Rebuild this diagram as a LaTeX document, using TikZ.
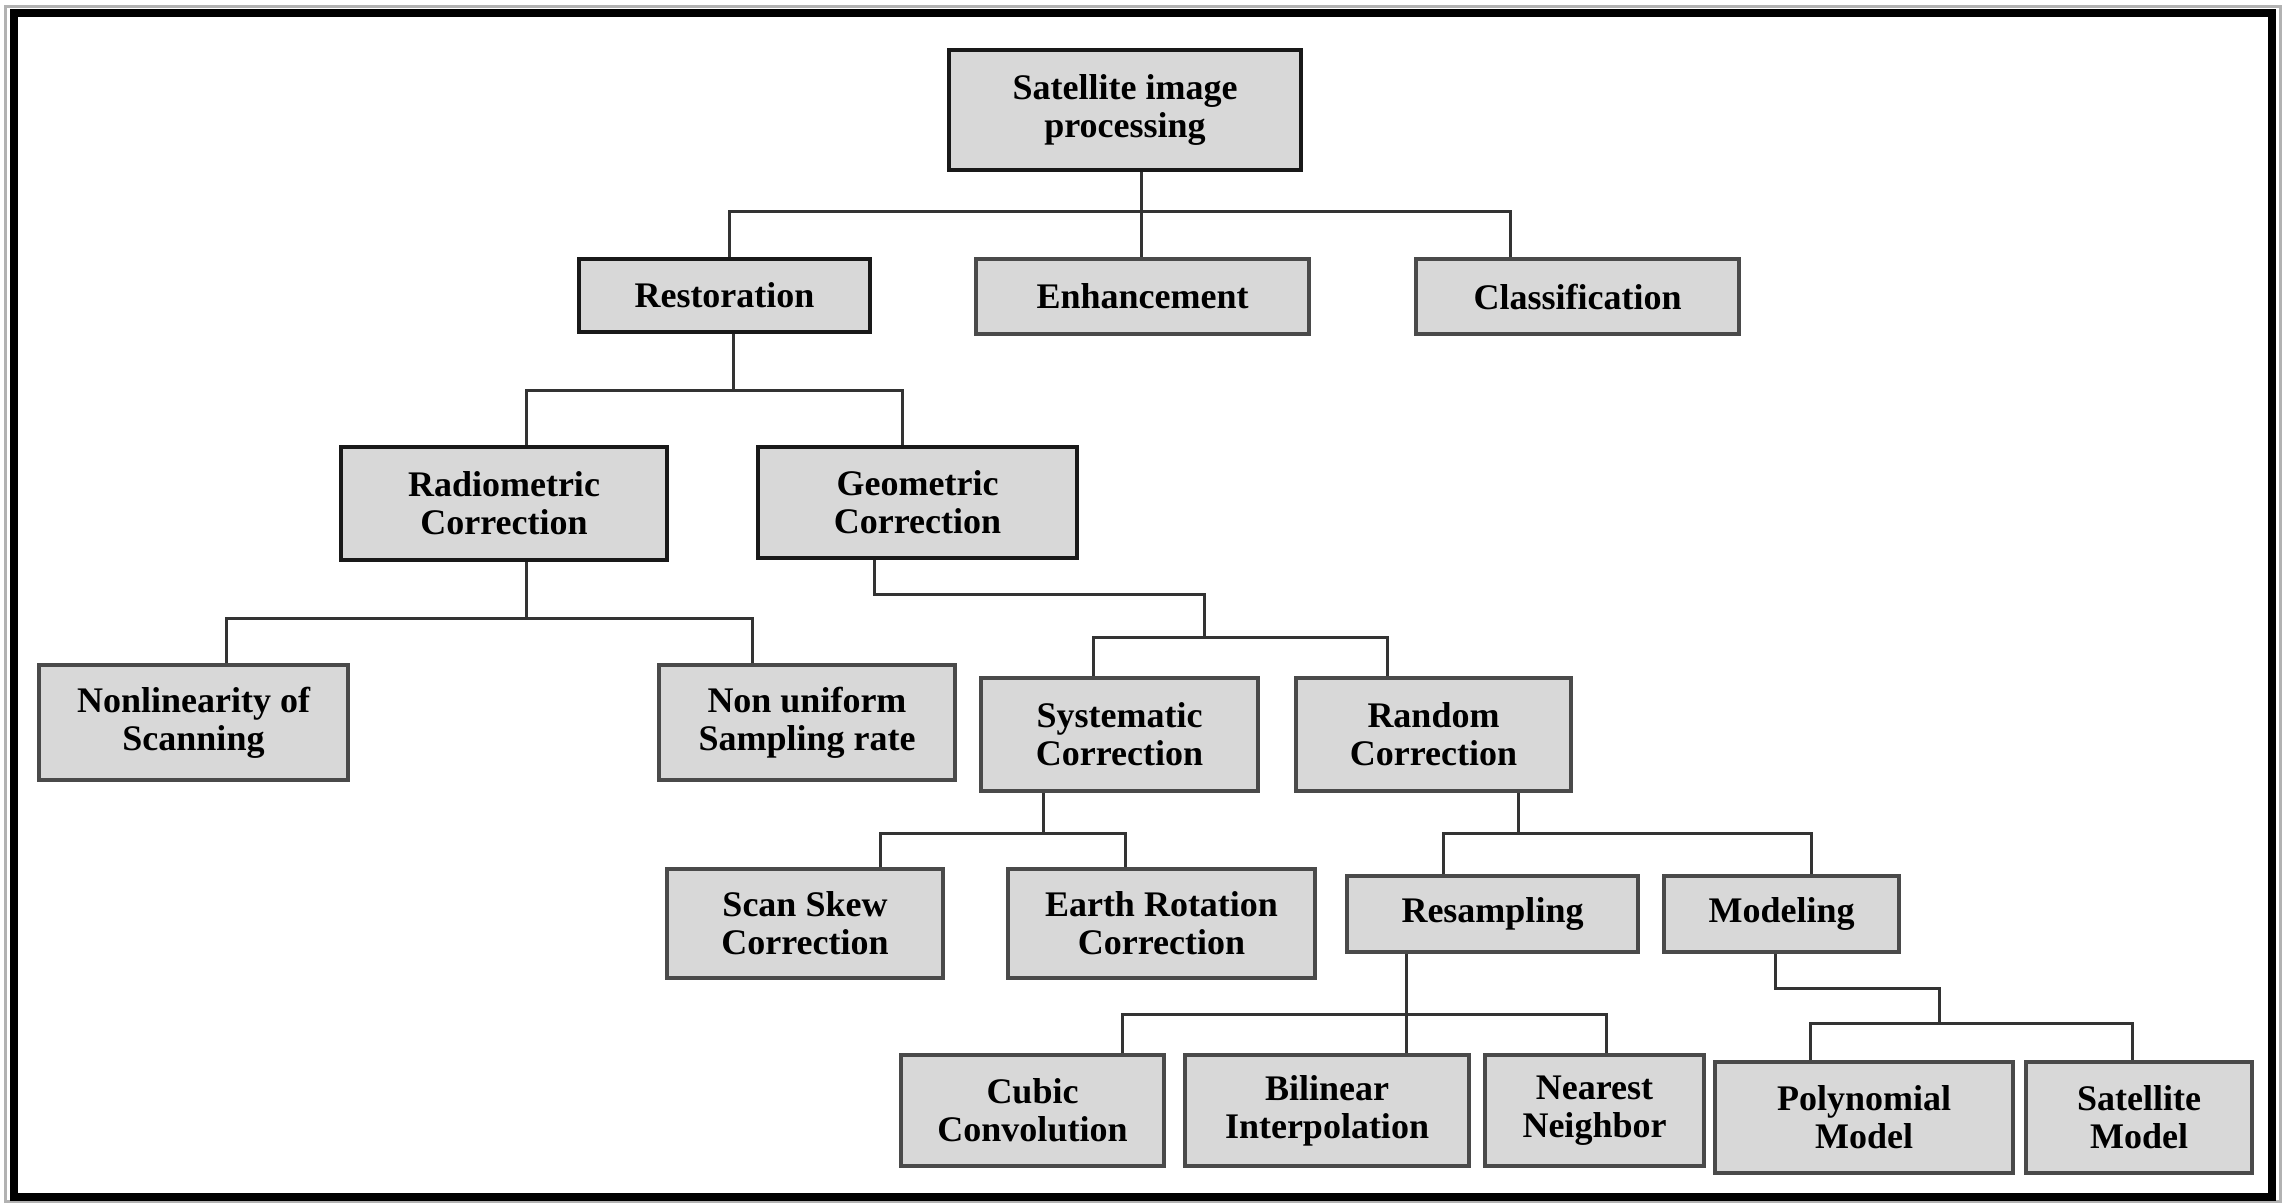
\documentclass[tikz,border=0pt]{standalone}
\usepackage{fontspec}
\setmainfont{Liberation Serif}
\definecolor{boxgray}{HTML}{D8D8D8}
\definecolor{edgegray}{HTML}{4A4A4A}
\begin{document}
\begin{tikzpicture}[x=1pt,y=-1pt,
  box/.style={draw=edgegray, line width=3.5pt, fill=boxgray, align=center, inner sep=0pt,
    font=\fontsize{36}{38}\selectfont\bfseries},
  boxdark/.style={box, draw=black!90, line width=4pt},
  link/.style={draw=black!80, line width=3pt}]
\useasboundingbox (0,0) rectangle (2285,1203);
\fill[white] (0,0) rectangle (2285,1203);
% frame
\draw[gray!60, line width=3pt] (5,6) rectangle (2280,1201);
\draw[black, line width=8pt] (14,13) rectangle (2272,1197);

% nodes
\node[boxdark, minimum width=352pt, minimum height=120pt] (root) at (1125,110) {Satellite image\\processing};
\node[boxdark, minimum width=291pt, minimum height=73pt] (restor) at (724.5,295.5) {Restoration};
\node[box, minimum width=333pt, minimum height=75pt] (enh) at (1142.5,296.5) {Enhancement};
\node[box, minimum width=323pt, minimum height=75pt] (classif) at (1577.5,296.5) {Classification};
\node[boxdark, minimum width=326pt, minimum height=113pt] (radio) at (504,503.5) {Radiometric\\Correction};
\node[boxdark, minimum width=319pt, minimum height=111pt] (geo) at (917.5,502.5) {Geometric\\Correction};
\node[box, minimum width=309pt, minimum height=115pt] (nonlin) at (193.5,722.5) {Nonlinearity of\\Scanning};
\node[box, minimum width=296pt, minimum height=115pt] (nonunif) at (807,722.5) {Non uniform\\Sampling rate};
\node[box, minimum width=277pt, minimum height=113pt] (sys) at (1119.5,734.5) {Systematic\\Correction};
\node[box, minimum width=275pt, minimum height=113pt] (rand) at (1433.5,734.5) {Random\\Correction};
\node[box, minimum width=276pt, minimum height=109pt] (scan) at (805,923.5) {Scan Skew\\Correction};
\node[box, minimum width=307pt, minimum height=109pt] (earth) at (1161.5,923.5) {Earth Rotation\\Correction};
\node[box, minimum width=291pt, minimum height=76pt] (resamp) at (1492.5,914) {Resampling};
\node[box, minimum width=235pt, minimum height=76pt] (model) at (1781.5,914) {Modeling};
\node[box, minimum width=263pt, minimum height=111pt] (cubic) at (1032.5,1110.5) {Cubic\\Convolution};
\node[box, minimum width=284pt, minimum height=111pt] (bilin) at (1327,1110.5) {Bilinear\\Interpolation};
\node[box, minimum width=219pt, minimum height=111pt] (near) at (1594.5,1110.5) {Nearest\\Neighbor};
\node[box, minimum width=298pt, minimum height=111pt] (poly) at (1864,1117.5) {Polynomial\\Model};
\node[box, minimum width=226pt, minimum height=111pt] (satm) at (2139,1117.5) {Satellite\\Model};

% junctions
\coordinate (j1) at (1141,211);
\coordinate (j2) at (733,390);
\coordinate (j3) at (526,618);
\coordinate (g1) at (874,594);
\coordinate (j4) at (1204,637);
\coordinate (j5) at (1043.5,833.5);
\coordinate (j6) at (1518.5,833.5);
\coordinate (j7) at (1406,1014);
\coordinate (m1) at (1775,988);
\coordinate (j8) at (1939.5,1023);

% connectors
\draw[link] (root.south -| j1) -- (enh.north -| j1);
\draw[link] ([xshift=4.5pt]restor.north) |- (j1) -| ([xshift=-67.5pt]classif.north);

\draw[link] (restor.south -| j2) -- (j2);
\draw[link] ([xshift=22pt]radio.north) |- (j2) -| ([xshift=-15.5pt]geo.north);

\draw[link] (radio.south -| j3) -- (j3);
\draw[link] ([xshift=32.5pt]nonlin.north) |- (j3) -| ([xshift=-55pt]nonunif.north);

\draw[link] (geo.south -| g1) -- (g1) -| (j4);
\draw[link] ([xshift=-26.5pt]sys.north) |- (j4) -| ([xshift=-46.5pt]rand.north);

\draw[link] (sys.south -| j5) -- (j5);
\draw[link] ([xshift=75pt]scan.north) |- (j5) -| ([xshift=-36.5pt]earth.north);

\draw[link] (rand.south -| j6) -- (j6);
\draw[link] ([xshift=-49.5pt]resamp.north) |- (j6) -| ([xshift=30pt]model.north);

\draw[link] (resamp.south -| j7) -- (bilin.north -| j7);
\draw[link] ([xshift=89.5pt]cubic.north) |- (j7) -| ([xshift=11.5pt]near.north);

\draw[link] (model.south -| m1) -- (m1) -| (j8);
\draw[link] ([xshift=-54pt]poly.north) |- (j8) -| ([xshift=-7pt]satm.north);
\end{tikzpicture}
\end{document}
